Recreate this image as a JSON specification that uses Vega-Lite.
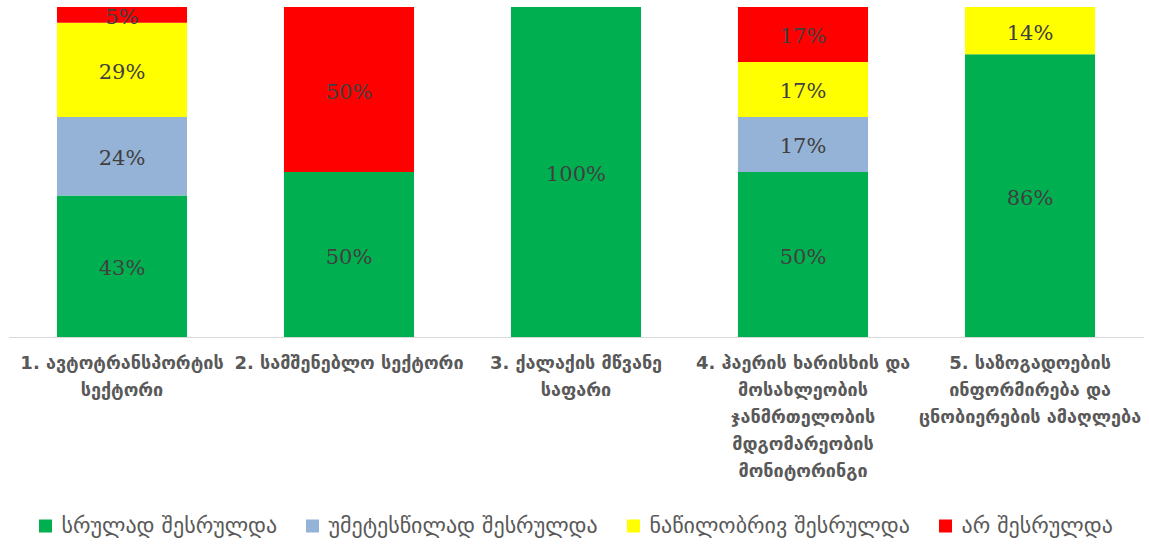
{
  "$schema": "https://vega.github.io/schema/vega-lite/v6.json",
  "width": 1135,
  "height": 330,
  "autosize": {"type": "none"},
  "padding": {"left": 8.5, "top": 7, "right": 5.5, "bottom": 209},
  "background": "white",
  "data": {
    "values": [
      {"cat": "1. ავტოტრანსპორტის|სექტორი", "status": "სრულად შესრულდა", "ord": 1, "v": 0.4286},
      {"cat": "1. ავტოტრანსპორტის|სექტორი", "status": "უმეტესწილად შესრულდა", "ord": 2, "v": 0.2381},
      {"cat": "1. ავტოტრანსპორტის|სექტორი", "status": "ნაწილობრივ შესრულდა", "ord": 3, "v": 0.2857},
      {"cat": "1. ავტოტრანსპორტის|სექტორი", "status": "არ შესრულდა", "ord": 4, "v": 0.0476},
      {"cat": "2. სამშენებლო სექტორი", "status": "სრულად შესრულდა", "ord": 1, "v": 0.5},
      {"cat": "2. სამშენებლო სექტორი", "status": "არ შესრულდა", "ord": 4, "v": 0.5},
      {"cat": "3. ქალაქის მწვანე|საფარი", "status": "სრულად შესრულდა", "ord": 1, "v": 1.0},
      {"cat": "4. ჰაერის ხარისხის და|მოსახლეობის|ჯანმრთელობის|მდგომარეობის|მონიტორინგი", "status": "სრულად შესრულდა", "ord": 1, "v": 0.5},
      {"cat": "4. ჰაერის ხარისხის და|მოსახლეობის|ჯანმრთელობის|მდგომარეობის|მონიტორინგი", "status": "უმეტესწილად შესრულდა", "ord": 2, "v": 0.1667},
      {"cat": "4. ჰაერის ხარისხის და|მოსახლეობის|ჯანმრთელობის|მდგომარეობის|მონიტორინგი", "status": "ნაწილობრივ შესრულდა", "ord": 3, "v": 0.1667},
      {"cat": "4. ჰაერის ხარისხის და|მოსახლეობის|ჯანმრთელობის|მდგომარეობის|მონიტორინგი", "status": "არ შესრულდა", "ord": 4, "v": 0.1666},
      {"cat": "5. საზოგადოების|ინფორმირება და|ცნობიერების ამაღლება", "status": "სრულად შესრულდა", "ord": 1, "v": 0.8571},
      {"cat": "5. საზოგადოების|ინფორმირება და|ცნობიერების ამაღლება", "status": "ნაწილობრივ შესრულდა", "ord": 3, "v": 0.1429}
    ]
  },
  "encoding": {
    "x": {
      "field": "cat",
      "type": "nominal",
      "sort": null,
      "title": null,
      "scale": {"paddingInner": 0.427, "paddingOuter": 0.2135},
      "axis": {
        "labelAngle": 0,
        "labelExpr": "split(datum.label, '|')",
        "labelFont": "DejaVu Sans",
        "labelFontSize": 18,
        "labelFontWeight": "bold",
        "labelLineHeight": 27,
        "labelColor": "#595959",
        "labelLimit": 0,
        "labelOverlap": false,
        "labelPadding": 17,
        "ticks": false,
        "domainColor": "#d9d9d9",
        "domainWidth": 1
      }
    },
    "y": {
      "field": "v",
      "type": "quantitative",
      "stack": "zero",
      "scale": {"domain": [0, 1]},
      "axis": null
    },
    "order": {"field": "ord", "type": "quantitative", "sort": "ascending"}
  },
  "layer": [
    {
      "mark": {"type": "bar"},
      "encoding": {
        "color": {
          "field": "status",
          "type": "nominal",
          "sort": ["სრულად შესრულდა", "უმეტესწილად შესრულდა", "ნაწილობრივ შესრულდა", "არ შესრულდა"],
          "scale": {
            "domain": ["სრულად შესრულდა", "უმეტესწილად შესრულდა", "ნაწილობრივ შესრულდა", "არ შესრულდა"],
            "range": ["#00B050", "#95B3D7", "#FFFF00", "#FF0000"]
          },
          "legend": {
            "title": null,
            "orient": "none",
            "legendX": 26,
            "legendY": 508,
            "direction": "horizontal",
            "symbolType": "square",
            "symbolSize": 169,
            "symbolStrokeWidth": 0,
            "symbolOffset": 0,
            "labelOffset": 5,
            "labelFont": "DejaVu Sans",
            "labelFontSize": 22,
            "labelColor": "#595959",
            "labelLimit": 0,
            "columnPadding": 24
          }
        }
      }
    },
    {
      "mark": {"type": "text", "font": "DejaVu Serif", "fontSize": 21, "color": "#404040", "baseline": "middle", "dy": 3},
      "encoding": {
        "y": {"field": "v", "type": "quantitative", "stack": "zero", "bandPosition": 0.5},
        "text": {"field": "v", "type": "quantitative", "format": ".0%"}
      }
    }
  ],
  "config": {"view": {"stroke": null}, "axis": {"grid": false}}
}
